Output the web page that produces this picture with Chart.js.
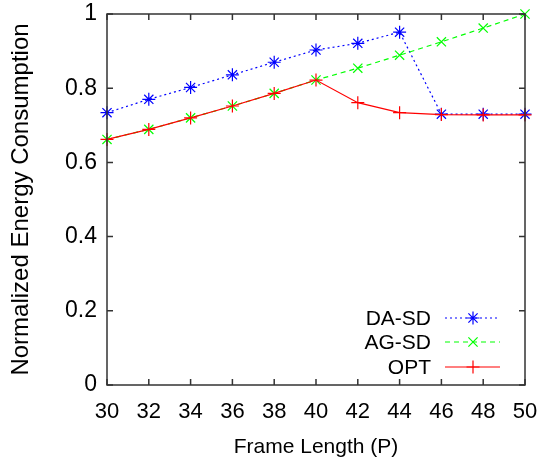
<!DOCTYPE html>
<html>
<head>
<meta charset="utf-8">
<script src="https://cdn.jsdelivr.net/npm/chart.js@4.4.1/dist/chart.umd.min.js"></script>
<style>
html,body{margin:0;padding:0;background:#fff;}
#wrap{width:540px;height:466px;}
</style>
</head>
<body>
<div id="wrap"><canvas id="c" width="540" height="466"></canvas></div>
<script>
const frameLengths = [30, 32, 34, 36, 38, 40, 42, 44, 46, 48, 50];
const daSd = [0.734, 0.770, 0.802, 0.836, 0.870, 0.903, 0.921, 0.951, 0.730, 0.730, 0.730];
const agSd = [0.662, 0.689, 0.720, 0.752, 0.786, 0.822, 0.854, 0.889, 0.925, 0.962, 1.000];
const opt  = [0.662, 0.689, 0.720, 0.752, 0.786, 0.822, 0.761, 0.734, 0.729, 0.728, 0.728];
const seriesNames = ['DA-SD', 'AG-SD', 'OPT'];
const xTicks = [30, 32, 34, 36, 38, 40, 42, 44, 46, 48, 50];
const yTicks = [0, 0.2, 0.4, 0.6, 0.8, 1];

const FONT = "'Liberation Sans', Arial, Helvetica, sans-serif";
const toPts = arr => arr.map((v, i) => ({x: frameLengths[i], y: v}));

const styles = [
  {color: '#0000ff', dash: [2, 3], point: 'star'},
  {color: '#00ff00', dash: [5, 4], point: 'crossRot'},
  {color: '#ff0000', dash: [], point: 'cross'}
];
const values = [daSd, agSd, opt];

const datasets = values.map((vals, i) => ({
  label: seriesNames[i],
  data: toPts(vals),
  borderColor: styles[i].color,
  backgroundColor: styles[i].color,
  borderWidth: 1.2,
  borderDash: styles[i].dash,
  pointStyle: styles[i].point,
  pointRadius: 6.5,
  pointBorderWidth: 1.2,
  pointBorderColor: styles[i].color,
  tension: 0,
  clip: false,
  order: 2 - i
}));

const framePlugin = {
  id: 'frame',
  afterDatasetsDraw(chart) {
    const {ctx, chartArea: a, scales: {x, y}} = chart;
    ctx.save();
    ctx.strokeStyle = '#333';
    ctx.lineWidth = 1.5;
    ctx.setLineDash([]);
    ctx.strokeRect(a.left, a.top, a.right - a.left, a.bottom - a.top);
    const L = 6;
    ctx.beginPath();
    xTicks.forEach(t => {
      const px = x.getPixelForValue(t);
      ctx.moveTo(px, a.bottom); ctx.lineTo(px, a.bottom - L);
      ctx.moveTo(px, a.top); ctx.lineTo(px, a.top + L);
    });
    yTicks.forEach(t => {
      const py = y.getPixelForValue(t);
      ctx.moveTo(a.left, py); ctx.lineTo(a.left + L, py);
      ctx.moveTo(a.right, py); ctx.lineTo(a.right - L, py);
    });
    ctx.stroke();
    ctx.restore();
  },
  afterDraw(chart) {
    const {ctx} = chart;
    ctx.save();
    const textRight = 431, lineL = 445, lineR = 500, mk = 473;
    const rows = [318, 342, 367];
    ctx.font = "21px " + FONT;
    ctx.textAlign = 'right';
    ctx.textBaseline = 'middle';
    chart.data.datasets.forEach((ds, i) => {
      const yy = rows[i];
      ctx.fillStyle = '#000';
      ctx.fillText(ds.label, textRight, yy + 1);
      ctx.strokeStyle = ds.borderColor;
      ctx.lineWidth = ds.borderWidth;
      ctx.setLineDash(ds.borderDash);
      ctx.beginPath();
      ctx.moveTo(lineL, yy); ctx.lineTo(lineR, yy);
      ctx.stroke();
      ctx.setLineDash([]);
      ctx.lineWidth = ds.pointBorderWidth;
      Chart.helpers.drawPoint(ctx, {pointStyle: ds.pointStyle, radius: ds.pointRadius, borderWidth: ds.pointBorderWidth, rotation: 0}, mk, yy);
    });
    ctx.restore();
  }
};

new Chart(document.getElementById('c'), {
  type: 'line',
  data: {datasets},
  options: {
    responsive: false,
    animation: false,
    devicePixelRatio: 1,
    layout: {padding: {top: 14, right: 15, left: 0, bottom: 0}},
    plugins: {legend: {display: false}, tooltip: {enabled: false}},
    scales: {
      x: {
        type: 'linear', min: 30, max: 50,
        afterFit(s) { s.height = 81; s.paddingLeft = 0; s.paddingRight = 0; },
        afterBuildTicks(s) { s.ticks = xTicks.map(v => ({value: v})); },
        grid: {display: false, drawTicks: false},
        border: {display: false},
        ticks: {font: {family: FONT, size: 22}, color: '#000', padding: 14, maxRotation: 0, autoSkip: false},
        title: {display: true, text: 'Frame Length (P)', font: {family: FONT, size: 21}, color: '#000', padding: {top: 0, bottom: 6}}
      },
      y: {
        type: 'linear', min: 0, max: 1,
        afterFit(s) { s.width = 107; s.paddingTop = 0; s.paddingBottom = 0; },
        afterBuildTicks(s) { s.ticks = yTicks.map(v => ({value: v})); },
        grid: {display: false, drawTicks: false},
        border: {display: false},
        ticks: {font: {family: FONT, size: 23}, color: '#000', padding: 10,
          callback: v => (v === 0 || v === 1) ? String(v) : v.toFixed(1)},
        title: {display: true, text: 'Normalized Energy Consumption', font: {family: FONT, size: 24}, color: '#000', padding: {top: 7, bottom: 0}}
      }
    }
  },
  plugins: [framePlugin]
});
</script>
</body>
</html>
